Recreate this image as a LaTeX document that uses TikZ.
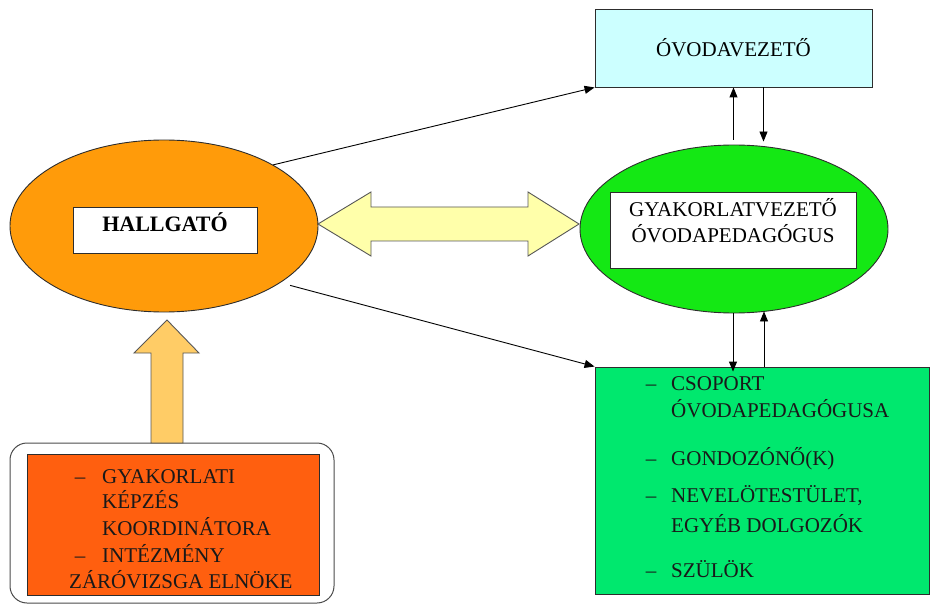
\documentclass[tikz,border=0pt]{standalone}
\usepackage{fontspec}
\setmainfont{Liberation Serif}
\usetikzlibrary{shapes.geometric,arrows.meta,calc}
\definecolor{orell}{RGB}{255,155,10}
\definecolor{grell}{RGB}{20,232,20}
\definecolor{grbox}{RGB}{0,232,110}
\definecolor{cyanbox}{RGB}{204,255,255}
\definecolor{orbox}{RGB}{255,95,15}
\definecolor{yelarr}{RGB}{255,255,170}
\definecolor{uparr}{RGB}{255,204,102}
\definecolor{edge}{RGB}{45,45,45}
\tikzset{
  elli/.style={ellipse,draw=edge,line width=0.9pt,inner sep=0pt,minimum width=308pt},
  boxw/.style={rectangle,draw=edge,line width=0.9pt,fill=white,inner sep=0pt},
  txt/.style={font=\fontsize{21}{25}\selectfont,inner sep=0pt},
  lst/.style={txt,anchor=base west,text=black!90},
  arr/.style={draw=black,line width=0.9pt,-{Triangle[length=10pt,width=8pt]}},
  fatarr/.style={draw=edge!80,line width=0.9pt,line join=miter}
}
\begin{document}
\begin{tikzpicture}[x=1pt,y=-1pt]
\useasboundingbox (0,0) rectangle (932,604);
% top box
\node[boxw,fill=cyanbox,minimum width=277pt,minimum height=78pt] (vez) at (733.5,48) {};
\node[txt,anchor=base] (veztxt) at (733.5,57) {ÓVODAVEZETŐ};
% ellipses
\node[elli,fill=orell,minimum height=172pt] (hall) at (164,226) {};
\node[boxw,minimum width=184pt,minimum height=46pt] (hallbox) at (165,230) {};
\node[txt,anchor=base,font=\fontsize{22}{25}\selectfont\bfseries] (halltxt) at (165,232) {HALLGATÓ};
\node[elli,fill=grell,minimum height=168pt] (gye) at (734,229) {};
\node[boxw,minimum width=246pt,minimum height=76pt] (gyebox) at (733,230) {};
\node[txt,anchor=base] (gyet1) at (733,217) {GYAKORLATVEZETŐ};
\node[txt,anchor=base] (gyet2) at (733,243) {ÓVODAPEDAGÓGUS};
% green list box
\node[boxw,fill=grbox,minimum width=334pt,minimum height=227pt] (grp) at (762,480.5) {};
\foreach \y/\t in {390/CSOPORT,465/GONDOZÓNŐ(K),502/{NEVELÖTESTÜLET,},577/SZÜLÖK}{
  \node[lst,anchor=base] at (651,\y) {–};
  \node[lst] at (671,\y) {\t};
}
\node[lst] (g2) at (671,417) {ÓVODAPEDAGÓGUSA};
\node[lst] (g5) at (671,532) {EGYÉB DOLGOZÓK};
% bottom left boxes
\draw[draw=edge!85,line width=1pt,fill=white,rounded corners=17pt] (10,443) rectangle (334,603);
\node[boxw,fill=orbox,minimum width=292pt,minimum height=141pt] (koord) at (173,524.5) {};
\node[lst,anchor=base] at (80,483) {–};
\node[lst] at (102,483) {GYAKORLATI};
\node[lst] at (102,508) {KÉPZÉS};
\node[lst] at (102,535) {KOORDINÁTORA};
\node[lst,anchor=base] at (80,562) {–};
\node[lst] at (102,562) {INTÉZMÉNY};
\node[lst] at (69,588) {ZÁRÓVIZSGA ELNÖKE};
% fat arrows
\draw[fatarr,fill=yelarr] (318,224) -- (371,192) -- (371,207) -- (528,207) -- (528,192) -- (579,224)
  -- (528,256) -- (528,241) -- (371,241) -- (371,256) -- cycle;
\draw[fatarr,fill=uparr] (167,320) -- (199,353) -- (183,353) -- (183,443) -- (151,443) -- (151,353) -- (134,353) -- cycle;
% connectors
\draw[arr] (hall.north east) -- (vez.south west);
\draw[arr,shorten <=10pt] (hall.-26) -- (grp.north west);
\draw[arr] ([xshift=-0.5pt,yshift=5pt]gye.north) -- ([xshift=-0.5pt]gye.north |- vez.south);
\draw[arr] ([xshift=30pt]vez.south) -- ([xshift=30pt,yshift=3pt]vez.south |- gye.north);
\draw[arr] ([xshift=-1pt]gye.south) -- ([xshift=-1pt,yshift=-5pt]gye.south |- grp.north);
\draw[arr] ([xshift=30pt]gye.south |- grp.north) -- ([xshift=30pt,yshift=2pt]gye.south);
\end{tikzpicture}
\end{document}
